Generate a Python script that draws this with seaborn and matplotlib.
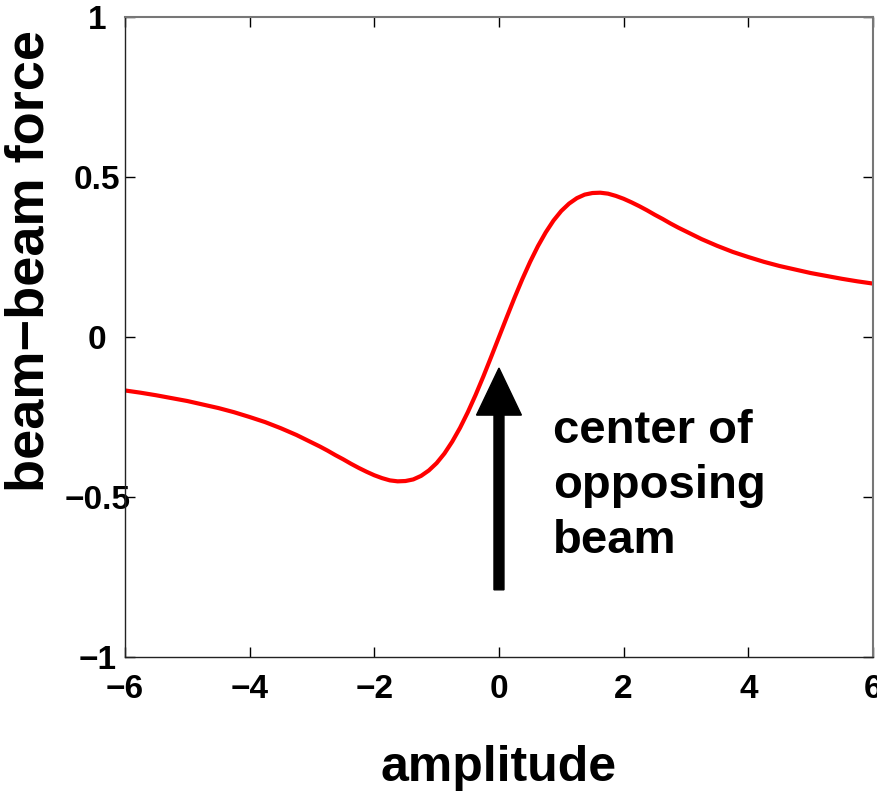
import matplotlib
matplotlib.use("Agg")
import matplotlib.pyplot as plt
import seaborn as sns
import pandas as pd

# values
amplitude = [-6.0, -5.75, -5.5, -5.25, -5.0, -4.75, -4.5, -4.25, -4.0, -3.75, -3.5, -3.25,
             -3.0, -2.875, -2.75, -2.625, -2.5, -2.375, -2.25, -2.125, -2.0, -1.875,
             -1.75, -1.625, -1.5, -1.375, -1.25, -1.125, -1.0, -0.875, -0.75, -0.625,
             -0.5, -0.375, -0.25, -0.125, 0.0,
             0.125, 0.25, 0.375, 0.5, 0.625, 0.75, 0.875, 1.0, 1.125, 1.25, 1.375,
             1.5, 1.625, 1.75, 1.875, 2.0, 2.125, 2.25, 2.375, 2.5, 2.625, 2.75, 2.875,
             3.0, 3.25, 3.5, 3.75, 4.0, 4.25, 4.5, 4.75, 5.0, 5.25, 5.5, 5.75, 6.0]
force = [-0.167, -0.174, -0.182, -0.191, -0.200, -0.211, -0.222, -0.235, -0.250, -0.266, -0.285, -0.306,
         -0.330, -0.342, -0.355, -0.369, -0.382, -0.396, -0.409, -0.421, -0.432, -0.441,
         -0.448, -0.451, -0.450, -0.445, -0.434, -0.417, -0.394, -0.364, -0.327, -0.284,
         -0.235, -0.181, -0.123, -0.062, 0.0,
         0.062, 0.123, 0.181, 0.235, 0.284, 0.327, 0.364, 0.394, 0.417, 0.434, 0.445,
         0.450, 0.451, 0.448, 0.441, 0.432, 0.421, 0.409, 0.396, 0.382, 0.369, 0.355, 0.342,
         0.330, 0.306, 0.285, 0.266, 0.250, 0.235, 0.222, 0.211, 0.200, 0.191, 0.182, 0.174, 0.167]
xticks = [-6, -4, -2, 0, 2, 4, 6]
yticks = [-1, -0.5, 0, 0.5, 1]
ytick_labels = ["\u22121", "\u22120.5", "0", "0.5", "1"]
xtick_labels = ["\u22126", "\u22124", "\u22122", "0", "2", "4", "6"]

df = pd.DataFrame({"amplitude": amplitude, "force": force})

sns.set_style("white")
plt.rcParams["text.color"] = "black"
plt.rcParams["axes.labelcolor"] = "black"
plt.rcParams["xtick.color"] = "black"
plt.rcParams["ytick.color"] = "black"
font = ["Liberation Sans", "DejaVu Sans"]

fig = plt.figure(figsize=(8.77, 7.99), dpi=100)
ax = fig.add_axes([0.1425, 0.1777, 0.8529, 0.801])

sns.lineplot(data=df, x="amplitude", y="force", color="#ff0000", linewidth=3,
             sort=False, estimator=None, ax=ax)

ax.set_xlim(-6, 6)
ax.set_ylim(-1, 1)
ax.set_xticks(xticks)
ax.set_yticks(yticks)
ax.set_xticklabels(xtick_labels, family=font, fontweight="bold", fontsize=24)
ax.set_yticklabels(ytick_labels, family=font, fontweight="bold", fontsize=24)
for lab in ax.get_yticklabels():
    lab.set_horizontalalignment("center")
ax.tick_params(axis="both", direction="in", length=7, width=1, color="black",
               top=True, right=True, bottom=True, left=True)
ax.tick_params(axis="y", pad=20)
ax.tick_params(axis="x", pad=12)

for side in ["left", "bottom"]:
    ax.spines[side].set_color("#222222")
    ax.spines[side].set_linewidth(1)
for side in ["top", "right"]:
    ax.spines[side].set_color("#777777")
    ax.spines[side].set_linewidth(1.5)

ax.set_xlabel("amplitude", family=font, fontweight="bold", fontsize=36, va="top")
ax.set_ylabel("beam\u2212beam force", family=font, fontweight="bold", fontsize=39)
ax.xaxis.set_label_coords(0.5, -0.138)
ax.yaxis.set_label_coords(-0.094, 0.619)

# arrow pointing at the centre of the opposing beam
arrow_x, arrow_y0, arrow_y1 = 0.0, -0.79, -0.097
ax.arrow(arrow_x, arrow_y0, 0, arrow_y1 - arrow_y0, width=0.16, head_width=0.72,
         head_length=0.147, length_includes_head=True, color="black", zorder=3)
ax.text(0.87, -0.225, "center of\nopposing\nbeam", family=font, fontweight="bold",
        fontsize=34, ha="left", va="top", linespacing=1.32)

fig.savefig("out.png", dpi=100)
